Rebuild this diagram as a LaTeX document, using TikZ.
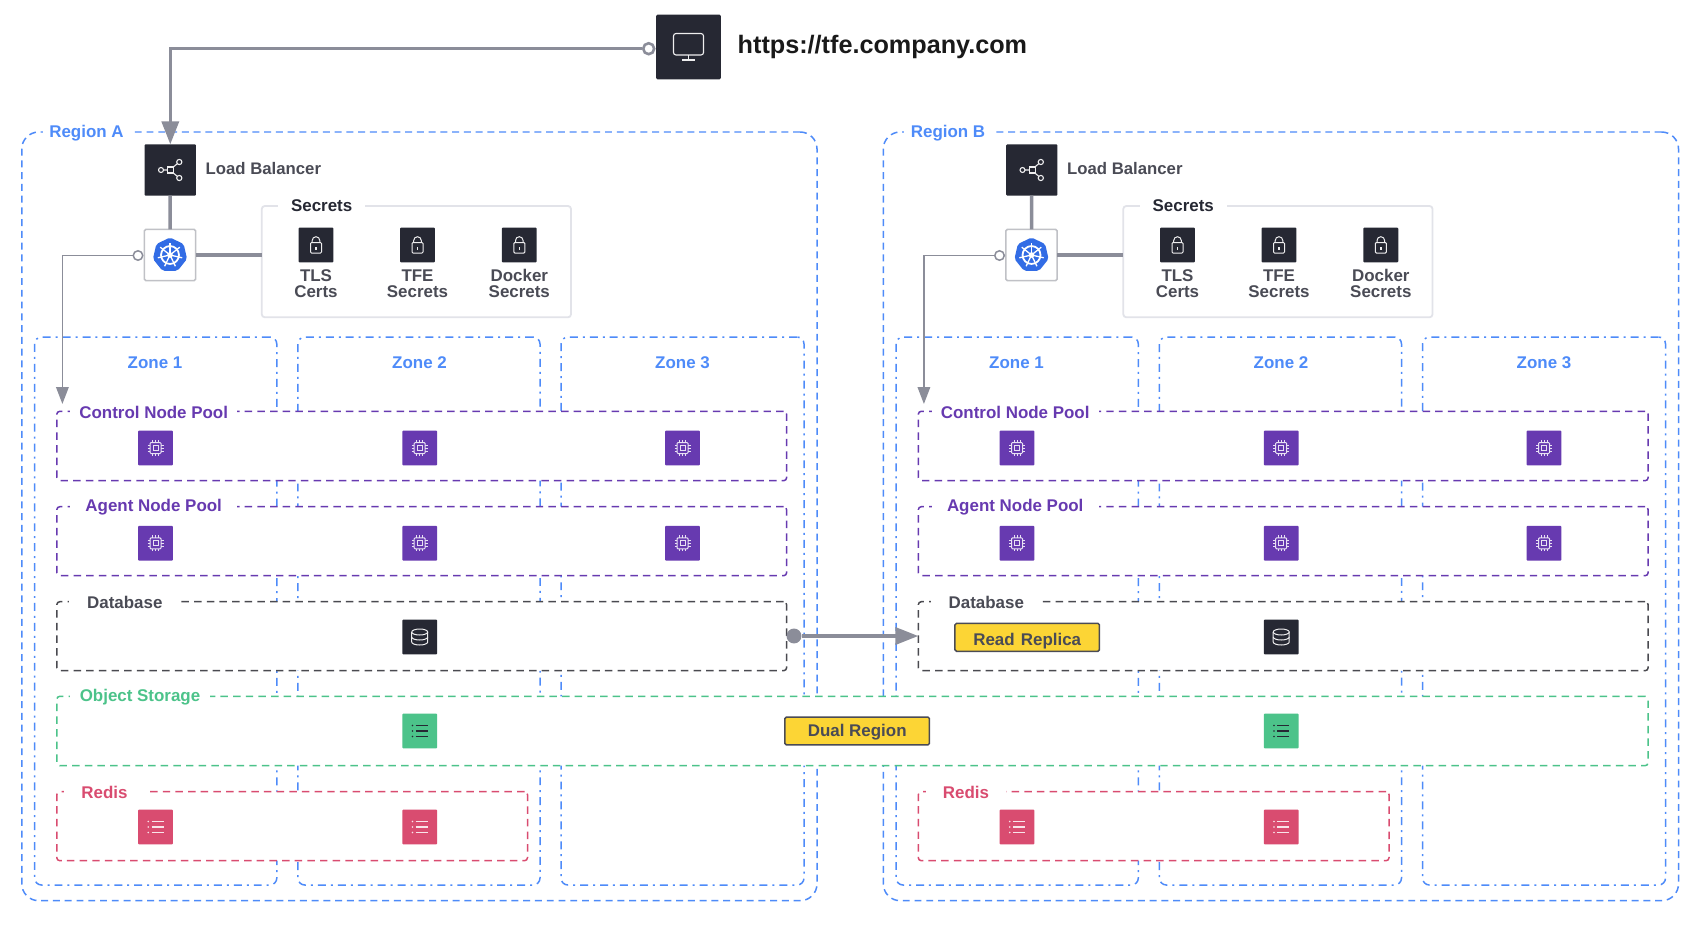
\documentclass[tikz,border=0pt]{standalone}
\usepackage{fontspec}
\setmainfont{Liberation Sans}
\usetikzlibrary{arrows.meta}
\definecolor{zblue}{HTML}{4E8BF9}
\definecolor{zpurple}{HTML}{673AB0}
\definecolor{zgreen}{HTML}{4CC38A}
\definecolor{zpink}{HTML}{D94C70}
\definecolor{zdark}{HTML}{262833}
\definecolor{zgray}{HTML}{8B8D99}
\definecolor{zdash}{HTML}{4A4A50}
\definecolor{ztext}{HTML}{4A4B55}
\definecolor{zyellow}{HTML}{FCD535}
\definecolor{zlight}{HTML}{E2E3E9}
\newcommand\panel[6]{\pgfmathsetmacro\pw{#5-#3}\pgfmathsetmacro\ph{#6-#4}\node[#2,minimum width=\pw bp,minimum height=\ph bp,anchor=north west] (#1) at (#3,#4) {};}
\newcommand\fsz[1]{\fontsize{#1}{#1}\selectfont}
\newcommand\twolines[2]{\rule{0pt}{13pt}#1\\#2\rule[-4pt]{0pt}{4pt}}
\tikzset{
  panelbase/.style={inner sep=0pt,outer sep=0pt,line width=1.5pt},
  regionbox/.style={panelbase,draw=zblue,rounded corners=17pt,dash pattern=on 7pt off 4.8pt},
  zonebox/.style={panelbase,draw=zblue,rounded corners=7pt,dash pattern=on 8pt off 5pt on 2pt off 5pt},
  poolbox/.style={panelbase,fill=white,rounded corners=3pt,dash pattern=on 7.5pt off 5.2pt,draw=#1},
  secretbox/.style={panelbase,fill=white,draw=zlight,line width=1.8pt,rounded corners=3pt},
  iconbox/.style={inner sep=0pt,outer sep=0pt,minimum size=35pt,rounded corners=1pt,fill=#1},
  gaplabel/.style={inner sep=0pt,fill=white,minimum height=16pt,font=\fsz{17}\bfseries},
  plainlabel/.style={inner sep=0pt,font=\fsz{17}\bfseries},
  tag/.style={inner sep=0pt,outer sep=0pt,minimum width=145pt,minimum height=28pt,fill=zyellow,draw=ztext,line width=1.5pt,rounded corners=1.5pt,text=ztext,font=\fsz{17}\bfseries},
  thickline/.style={draw=zgray,line width=3.5pt},
  thinline/.style={draw=zgray,line width=1.8pt},
  bigtip/.style={-{Triangle[length=23pt,width=17pt]}},
  smalltip/.style={-{Triangle[length=17pt,width=12.5pt]}},
  chipicon/.pic={
    \draw[white!85!zpurple,line width=1pt,rounded corners=1pt] (-5.5,-5.5) rectangle (5.5,5.5);
    \draw[white!85!zpurple,line width=1pt] (-2.5,-2.5) rectangle (2.5,2.5);
    \foreach \p in {-3,0,3}{
      \draw[white!85!zpurple,line width=.9pt] (\p,-8)--(\p,-5.5) (\p,5.5)--(\p,8) (-8,\p)--(-5.5,\p) (5.5,\p)--(8,\p);
    }},
  listicon/.pic={
    \foreach \p in {-5.5,0,5.5}{
      \draw[#1,line width=1.1pt] (-4,\p)--(8,\p);
      \fill[#1] (-7.2,\p) circle (.9pt);
    }},
  dbicon/.pic={
    \draw[white!92!zdark,line width=1pt] (-8,-5) arc[start angle=180,end angle=540,x radius=8,y radius=3];
    \draw[white!92!zdark,line width=1pt] (-8,-5)--(-8,5) arc[start angle=180,end angle=0,x radius=8,y radius=3] -- (8,-5);
    \draw[white!92!zdark,line width=1pt] (-8,0) arc[start angle=180,end angle=0,x radius=8,y radius=3];
  },
  lockicon/.pic={
    \draw[white!92!zdark,line width=1pt,rounded corners=1pt] (-5.5,-2.5) rectangle (5.5,8);
    \draw[white!92!zdark,line width=1pt] (-3.8,-2.5)--(-3.8,-4.5) arc[start angle=180,end angle=360,radius=3.8]--(3.8,-2.5);
    \fill[white!92!zdark] (-.7,1.5) rectangle (.7,4.5);
  },
  screenicon/.pic={
    \draw[white!92!zdark,line width=1.1pt,rounded corners=2.5pt] (-15,-13.5) rectangle (15,8);
    \draw[white!92!zdark,line width=1.1pt] (0,8)--(0,13) (-6.3,13)--(6.3,13);
  },
  shareicon/.pic={
    \draw[white!92!zdark,line width=1.1pt] (-2.5,-3) rectangle (3.5,3);
    \draw[white!92!zdark,line width=1.1pt] (-6.8,0)--(-2.5,0) (3,-3)--(7.2,-6.5) (3,3)--(7.2,6.5);
    \draw[white!92!zdark,line width=1.1pt] (-9.3,0) circle (2.5pt) (9,-8) circle (2.6pt) (9,8) circle (2.6pt);
  },
  wheelicon/.pic={
    \fill[fill={rgb,255:red,50;green,108;blue,229},rounded corners=2pt]
      (-90:17.5)--(-38.6:17.5)--(12.9:17.5)--(64.3:17.5)--(115.7:17.5)--(167.1:17.5)--(-141.4:17.5)--cycle;
    \draw[white,line width=1.8pt] (0,0) circle (9pt);
    \foreach \a in {-90,-38.6,12.9,64.3,115.7,167.1,-141.4}{
      \draw[white,line width=1.3pt] (0,0)--(\a:12.5);
    }
    \fill[white] (0,0) circle (2.8pt);
  },
}
\begin{document}
\begin{tikzpicture}[x=1bp,y=-1bp]
\useasboundingbox[fill=white] (0,0) rectangle (1692,924);
\foreach \rg/\dx in {A/0,B/861.5}{
\begin{scope}[xshift=\dx bp]
  \panel{region\rg}{regionbox}{21.8}{132}{817}{900.7}
  \node[gaplabel,text=zblue,minimum width=88pt] (rlabel\rg) at (86.5,133.5) {Region \rg};
  \panel{zoneI\rg}{zonebox}{34.6}{337}{276.8}{885}
  \panel{zoneII\rg}{zonebox}{297.9}{337}{540}{885}
  \panel{zoneIII\rg}{zonebox}{561}{337}{804}{885}
  \node[plainlabel,text=zblue] (zlI\rg) at (155,363) {Zone 1};
  \node[plainlabel,text=zblue] (zlII\rg) at (419.5,363) {Zone 2};
  \node[plainlabel,text=zblue] (zlIII\rg) at (682.5,363) {Zone 3};
  % load balancer
  \node[iconbox=zdark,minimum size=51.5pt] (lb\rg) at (170.3,170) {};
  \pic at (lb\rg.center) {shareicon};
  \node[plainlabel,anchor=west,text=ztext,font=\fsz{16.8}\bfseries] (lbl\rg) at (205.5,168.7) {Load Balancer};
  % kubernetes
  \node[inner sep=0pt,outer sep=0pt,minimum size=51.5pt,fill=white,draw=zlight!85!black,line width=1.6pt,rounded corners=1.5pt] (k8s\rg) at (170,255) {};
  \pic at (k8s\rg.center) {wheelicon};
  % secrets
  \panel{sec\rg}{secretbox}{261.8}{206}{571}{317.3}
  \node[gaplabel,text=zdark,minimum width=87.5pt] (secl\rg) at (321.7,206) {Secrets};
  \node[iconbox=zdark] (lockI\rg) at (316,245) {};
  \pic at (lockI\rg.center) {lockicon};
  \node[iconbox=zdark] (lockII\rg) at (417.5,245) {};
  \pic at (lockII\rg.center) {lockicon};
  \node[iconbox=zdark] (lockIII\rg) at (519.3,245) {};
  \pic at (lockIII\rg.center) {lockicon};
  \node[plainlabel,align=center,text=ztext,font=\fontsize{17}{16}\selectfont\bfseries] (lockIl\rg) at (316,284.8) {\twolines{TLS}{Certs}};
  \node[plainlabel,align=center,text=ztext,font=\fontsize{17}{16}\selectfont\bfseries] (lockIIl\rg) at (417.5,284.8) {\twolines{TFE}{Secrets}};
  \node[plainlabel,align=center,text=ztext,font=\fontsize{17}{16}\selectfont\bfseries] (lockIIIl\rg) at (519.3,284.8) {\twolines{Docker}{Secrets}};
  % connectors in region
  \draw[thickline] (lb\rg) -- (k8s\rg);
  \draw[thickline] (k8s\rg.east) -- (k8s\rg.east -| sec\rg.west);
  \node[circle,inner sep=0pt,minimum size=9.5pt,fill=white,draw=zgray,line width=1.5pt] (kdot\rg) at (138,255.5) {};
  \coordinate (ktgt\rg) at (62.4,404);
  % pools
  \panel{ctl\rg}{poolbox=zpurple}{56.8}{411.3}{786.6}{480.7}
  \node[gaplabel,text=zpurple,minimum width=167.5pt] (ctll\rg) at (153.7,412) {Control Node Pool};
  \panel{agt\rg}{poolbox=zpurple}{56.8}{506.7}{786.6}{575.7}
  \node[gaplabel,text=zpurple,minimum width=167.5pt] (agtl\rg) at (153.7,507.5) {Agent Node Pool};
  \foreach \n/\cx in {I/155.5,II/419.7,III/682.5}{
    \node[iconbox=zpurple] (cn\n\rg) at (\cx,448) {};
    \pic at (cn\n\rg.center) {chipicon};
    \node[iconbox=zpurple] (an\n\rg) at (\cx,543.3) {};
    \pic at (an\n\rg.center) {chipicon};
  }
  \panel{db\rg}{poolbox=zdash}{56.8}{601.7}{786.6}{670.7}
  \node[gaplabel,text=ztext,minimum width=112pt] (dbl\rg) at (124.8,602) {Database};
  \node[iconbox=zdark] (dbi\rg) at (419.7,637) {};
  \pic at (dbi\rg.center) {dbicon};
  \panel{red\rg}{poolbox=zpink}{56.8}{791.7}{527.5}{860.7}
  \node[gaplabel,text=zpink,minimum width=81pt] (redl\rg) at (104.5,792) {Redis};
  \node[iconbox=zpink] (rdI\rg) at (155.5,827) {};
  \pic at (rdI\rg.center) {listicon=white!85!zpink};
  \node[iconbox=zpink] (rdII\rg) at (419.7,827) {};
  \pic at (rdII\rg.center) {listicon=white!85!zpink};
  \draw[thinline,smalltip] (kdot\rg.west) -| (ktgt\rg);
\end{scope}
}
% object storage across both regions
\panel{obj}{poolbox=zgreen}{56.8}{696.3}{1648}{765.7}
\node[gaplabel,text=zgreen,minimum width=140pt] (objl) at (140,697) {Object Storage};
\node[iconbox=zgreen] (objA) at (419.7,731) {};
\pic at (objA.center) {listicon=zdark};
\node[iconbox=zgreen] (objB) at (1281.2,731) {};
\pic at (objB.center) {listicon=zdark};
% tags
\node[tag] (dual) at (857.2,731) {\raisebox{-6pt}[0pt][0pt]{Dual Region}};
\node[tag] (replica) at (1027.2,637.3) {\raisebox{-8.7pt}[0pt][0pt]{Read\hspace{1.5pt} Replica}};
% top endpoint
\node[iconbox=zdark,minimum size=65pt,rounded corners=1.5pt] (client) at (688.5,47) {};
\pic at (client.center) {screenicon};
\node[inner sep=0pt,anchor=west,text=black!90,font=\fsz{25.3}\bfseries] (url) at (737.5,46.5) {https://tfe.company.com};
\node[circle,inner sep=0pt,minimum size=11pt,fill=white,draw=zgray,line width=2.6pt] (cdot) at (648.7,48.7) {};
\draw[thickline,bigtip] (cdot.west) -| (lbA.north);
% replication
\node[circle,inner sep=0pt,minimum size=15pt,fill=zgray] (rdot) at (794,636) {};
\draw[thickline,bigtip] (rdot) -- (rdot -| dbB.west);
\end{tikzpicture}
\end{document}
